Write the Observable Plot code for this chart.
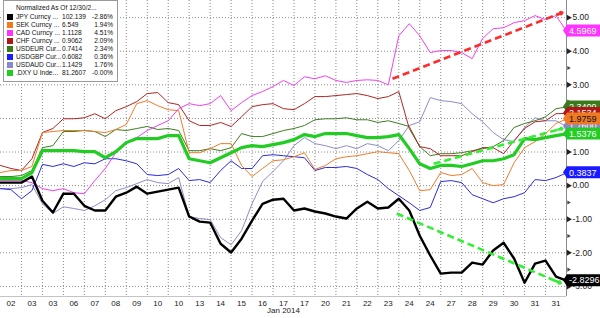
<!DOCTYPE html>
<html><head><meta charset="utf-8">
<script src="https://cdn.jsdelivr.net/npm/d3@7"></script>
<script src="https://cdn.jsdelivr.net/npm/@observablehq/plot@0.6"></script>
<style>
body{margin:0;background:#fff;}
#wrap{position:relative;width:600px;height:318px;overflow:hidden;font-family:"Liberation Sans",Arial,sans-serif;}
#legend{position:absolute;left:3px;top:0px;width:115px;height:82px;box-sizing:border-box;background:#fff;border:1px solid #9a9a9a;}
.lg{position:absolute;font-size:6.6px;line-height:8px;color:#111;white-space:nowrap;}
.sq{position:absolute;width:6px;height:6px;}
</style></head>
<body><div id="wrap"><div id="chart"></div></div>
<script>
// time index (trading-session units; one label interval = 1)
const sessionT = [0,0.5,1,1.5,2,2.5,3,3.5,4,4.5,5,5.5,6,6.5,7,7.5,8,8.5,9,9.5,10,10.5,11,11.5,12,12.5,13,13.5,14,14.5,15,15.5,16,16.5,17,17.5,18,18.5,19,19.5,20,20.5,21,21.5,22,22.5,23,23.5,24,24.5,25,25.5,26,26.5,27];
const xLabels = ["02","03","03","06","07","08","09","10","10","13","14","15","16","17","17","20","21","22","23","24","24","27","28","29","30","31","31"];
const xLabelPos = [0.5,1.5,2.5,3.5,4.5,5.5,6.5,7.5,8.5,9.5,10.5,11.5,12.5,13.5,14.5,15.5,16.5,17.5,18.5,19.5,20.5,21.5,22.5,23.5,24.5,25.5,26.5];
const xGrid = [1,2,3,4,5,6,7,8,9,10,11,12,13,14,15,16,17,18,19,20,21,22,23,24,25,26];
const yTicks = [-3,-2,-1,0,1,2,3,4,5];
const yMinor = [-2.5,-1.5,-0.5,0.5,1.5,2.5,3.5,4.5];
const yMin = -3.3, yMax = 5.51;

// normalized % change series
const jpy = [0.09,0.09,0.09,0.27,-0.45,-0.8,-0.24,-0.24,-0.6,-0.74,-0.74,-0.33,-0.21,-0.03,-0.24,-0.18,-0.12,-0.06,-0.92,-1.07,-1.1,-1.73,-1.99,-1.58,-1.04,-0.54,-0.42,-0.39,-0.74,-0.68,-0.77,-0.83,-0.92,-0.98,-0.68,-0.48,-0.68,-0.65,-0.39,-0.74,-1.49,-2.08,-2.62,-2.59,-2.59,-2.29,-2.35,-1.93,-1.7,-2.17,-2.89,-2.32,-2.23,-2.71,-2.83];
const sek = [0.39,0.45,0.45,0.57,1.58,1.61,1.64,1.64,1.64,1.61,1.58,1.67,1.82,2.44,2.53,2.38,2.26,2.23,0.98,0.98,1.1,1.25,1.25,0.6,0.27,0.51,0.74,0.77,0.86,0.98,0.48,0.6,0.8,0.86,0.89,0.95,1.01,0.98,0.95,0.45,-0.15,-0.12,0.39,0.3,0.33,0.51,0.09,0,0.03,0.68,1.13,1.31,1.55,1.85,1.98];
const cad = [0.15,0.15,0.15,0.09,-0.09,-0.15,-0.09,-0.21,-0.24,0.15,0.51,0.98,1.28,1.43,1.64,1.79,1.93,2.29,2.44,2.38,2.44,2.68,2.23,2.47,2.68,2.8,2.95,3.13,2.98,3.24,3.18,3.27,3.13,3.07,3.13,3.15,3.13,3.0,4.46,4.82,4.46,3.96,4.02,4.02,3.96,3.78,4.38,4.67,4.7,4.85,4.91,5.06,4.94,5.06,4.6];
const chf = [0.6,0.51,0.45,0.8,1.58,1.7,1.99,1.99,2.02,2.14,1.99,2.23,2.35,2.5,2.74,2.77,2.47,2.41,1.93,1.79,1.79,1.88,1.76,2.05,2.35,2.41,2.44,2.29,2.26,2.44,2.65,2.65,2.68,2.71,2.74,2.68,2.59,2.65,2.8,1.7,1.16,1.1,0.89,0.89,0.89,1.01,1.13,1.13,0.95,1.34,1.7,1.9,1.93,2.14,2.15];
const eur = [0.27,0.27,0.3,0.45,1.13,1.19,1.61,1.61,1.64,1.61,1.46,1.67,1.64,1.7,1.76,1.67,1.7,1.64,1.04,1.04,1.1,1.04,1.13,1.55,1.46,1.46,1.55,1.64,1.7,1.79,1.96,1.99,1.99,2.02,1.96,1.96,1.88,1.93,1.85,1.76,1.16,0.89,0.95,0.95,0.98,1.04,1.1,1.16,1.34,1.73,1.85,1.93,2.05,2.29,2.34];
const gbp = [-0.09,-0.12,-0.39,-0.15,0.63,0.57,0.65,0.57,0.68,0.65,0.8,0.8,0.74,0.65,0.33,0.3,0.33,0.51,0.15,0.18,0.09,0.45,0.74,0.51,0.51,0.89,0.92,0.89,0.86,0.83,0.45,0.54,0.54,0.57,0.51,0.33,0.18,-0.09,-0.3,-0.51,-0.74,-0.65,0.12,0.15,0.09,-0.27,-0.39,-0.51,-0.39,-0.33,-0.21,0.18,0.15,0.24,0.38];
const aud = [-0.09,-0.09,-0.06,0.03,-0.54,-0.83,-0.63,-0.68,-0.74,-0.6,-0.42,-0.15,-0.06,0.06,0.18,0.09,0.06,0.24,-0.92,-0.98,-1.01,-1.55,-1.76,-1.34,-0.54,0.12,0.42,0.74,1.19,1.43,1.25,1.19,1.1,1.19,1.1,1.25,1.19,1.04,1.34,1.79,1.9,2.62,2.53,2.5,2.44,2.14,1.9,1.58,1.37,1.31,1.73,2.02,1.93,1.93,1.76];
const dxy = [0.21,0.21,0.21,0.39,1.04,1.04,1.04,1.04,1.01,1.01,0.83,1.01,1.28,1.4,1.4,1.4,1.49,1.49,0.8,0.74,0.68,0.83,0.98,1.13,1.19,1.16,1.22,1.28,1.37,1.52,1.46,1.55,1.55,1.55,1.49,1.43,1.43,1.46,1.52,1.1,0.65,0.51,0.6,0.6,0.57,0.65,0.74,0.74,0.8,0.92,1.4,1.37,1.43,1.49,1.54];

// legend + tag texts
const legendNames = ["JPY Curncy ...","SEK Curncy ...","CAD Curncy ...","CHF Curncy ...","USDEUR Cur...","USDGBP Cur...","USDAUD Cur...",".DXY U Inde..."];
const legendLast = ["102.139","6.549","1.1128","0.9062","0.7414","0.6082","1.1429","81.2607"];
const legendPct = ["-2.86%","1.94%","4.51%","2.09%","2.34%","0.36%","1.76%","-0.00%"];
const tagLabels = ["-2.8296","1.9759","4.5969","2.1534","2.3409","0.3837","1.7600","1.5376"];
const seriesColors = ["#000000","#ef7b2a","#f040f0","#b02525","#3f7d20","#2b2bdc","#8c8ec8","#22cc22"];
const tagColors = ["#000000","#f07a20","#ff33ff","#b01818","#3a7a1a","#1a1aff","#8888cc","#22cc22"];
const tagTextColors = ["#fff","#111","#fff","#fff","#fff","#fff","#fff","#fff"];
const lineWidths = [2.4,1,1,1,1,1,1,3.2];
const seriesValues = [jpy,sek,cad,chf,eur,gbp,aud,dxy];
const drawOrder = [6,5,4,3,1,2,0,7];
const tagOrder = [4,3,6,1,7,5,0,2];

const arrows = [
  {t1:18.7, v1:3.18, t2:26.8, v2:5.15, color:"#ff2a2a"},
  {t1:20.66, v1:0.65, t2:26.8, v2:1.70, color:"#33ee33"},
  {t1:18.9, v1:-0.83, t2:26.72, v2:-2.9, color:"#33ee33"}
];

const rowsOf = k => seriesValues[k].map((v,i)=>({t:sessionT[i], v}));

const plot = Plot.plot({
  width:600, height:318,
  marginLeft:0, marginRight:34, marginTop:0, marginBottom:22,
  x:{domain:[0,27]},
  y:{domain:[yMin,yMax]},
  style:{fontFamily:"Liberation Sans, Arial, sans-serif", fontSize:"8px", background:"#fff", color:"#222"},
  marks:[
    Plot.gridY(yTicks, {stroke:"#8a8a8a", strokeOpacity:1, strokeDasharray:"1,2"}),
    Plot.gridX(xGrid, {stroke:"#8a8a8a", strokeOpacity:1, strokeDasharray:"1,2"}),
    Plot.ruleY([yMin], {stroke:"#c4c4c4"}),
    Plot.ruleX([27], {stroke:"#8a8a8a"}),
    Plot.dot(yTicks, {y:d=>d, frameAnchor:"right", symbol:"triangle", rotate:90, r:2.2, fill:"#222", dx:2}),
    Plot.dot(yMinor, {y:d=>d, frameAnchor:"right", symbol:"triangle", rotate:90, r:1.5, fill:"#444", dx:2}),
    Plot.axisY(yTicks, {anchor:"right", tickSize:0, tickPadding:6, tickFormat:d=>d.toFixed(2), fontSize:8.5, label:null, fill:"#222"}),
    Plot.axisX(xLabelPos, {anchor:"bottom", tickSize:0, tickPadding:4, tickFormat:d=>xLabels[Math.floor(d)], fontSize:8, label:null, fill:"#222"}),
    Plot.text([13.5], {x:d=>d, frameAnchor:"bottom", dy:16, text:()=>"Jan 2014", fontSize:8, fill:"#222"}),
    ...drawOrder.map(k => Plot.line(rowsOf(k), {x:"t", y:"v", stroke:seriesColors[k], strokeWidth:lineWidths[k], strokeLinejoin:"round"})),
    Plot.link(arrows, {x1:"t1", y1:"v1", x2:"t2", y2:"v2", stroke:"color", strokeWidth:2.6, strokeDasharray:"7,4"}),
    Plot.arrow(arrows, {x1:d=>d.t2-(d.t2-d.t1)*0.03, y1:d=>d.v2-(d.v2-d.v1)*0.03, x2:"t2", y2:"v2", stroke:"color", strokeWidth:2.6, headLength:11, headAngle:70})
  ]
});
document.getElementById("chart").appendChild(plot);

// value tags on the right axis
const sx = plot.scale("x"), sy = plot.scale("y");
const x0 = sx.apply(27);
const g = d3.select(plot).append("g").attr("text-anchor","start");
tagOrder.forEach(k => {
  const vals = seriesValues[k];
  const y = sy.apply(vals[vals.length-1]);
  g.append("path").attr("d", `M${x0-3},${y}L${x0+1},${y-6}H${x0+40}V${y+6}H${x0+1}Z`).attr("fill", tagColors[k]);
  g.append("text").attr("x", x0+3).attr("y", y).attr("dy","0.36em").attr("fill", tagTextColors[k])
    .attr("text-anchor","start").style("font-size","9px").text(tagLabels[k]);
});

// legend box
const wrap = document.getElementById("wrap");
const lg = document.createElement("div"); lg.id = "legend"; wrap.appendChild(lg);
function add(cls, txt, left, top, extra){ const e=document.createElement("div"); e.className=cls; if(txt!==null) e.textContent=txt; e.style.left=left+"px"; e.style.top=top+"px"; if(extra) Object.assign(e.style, extra); wrap.appendChild(e); return e; }
add("lg","Normalized As Of 12/30/2...",16,4);
legendNames.forEach((n,i)=>{
  const cy = 17 + i*8;
  add("sq",null,7,cy-3,{background:tagColors[i]});
  add("lg",n,16,cy-4);
  add("lg",legendLast[i],62,cy-4);
  add("lg",legendPct[i],86,cy-4,{width:"27px",textAlign:"right"});
});
</script></body></html>
